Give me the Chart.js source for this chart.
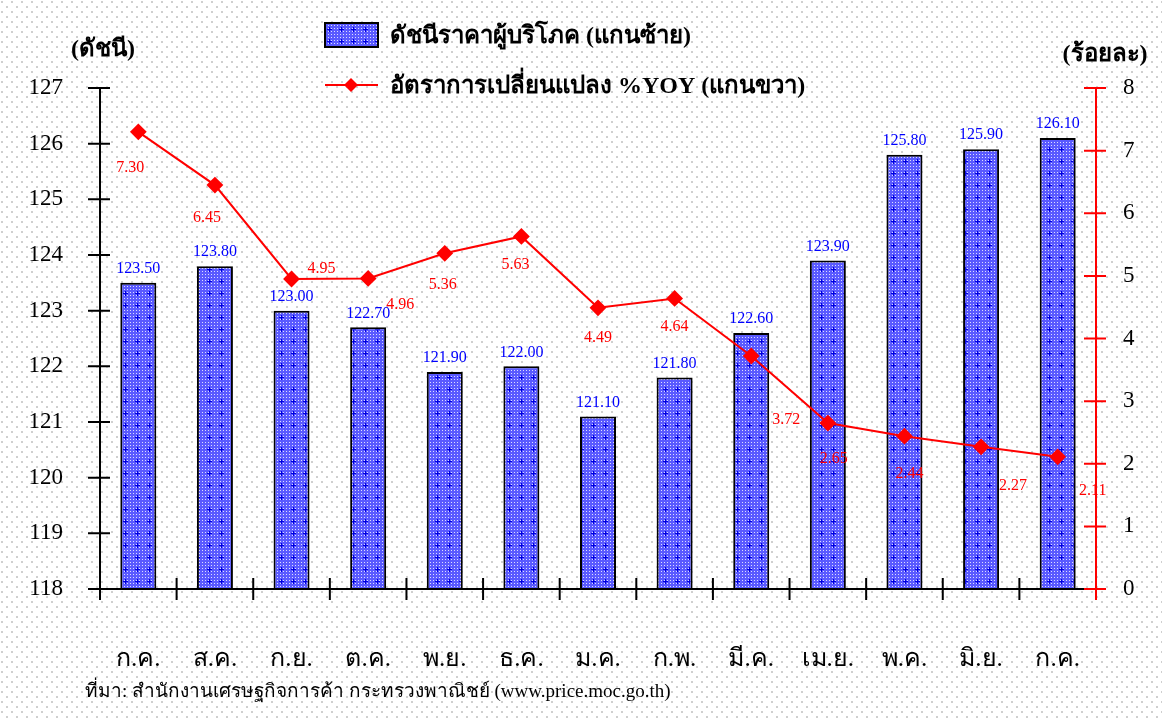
<!DOCTYPE html>
<html>
<head>
<meta charset="utf-8">
<script src="https://cdn.jsdelivr.net/npm/chart.js@4"></script>
<style>
  html, body { margin: 0; padding: 0; background: #fff; }
  #wrap { width: 1162px; height: 720px; }
</style>
</head>
<body>
<div id="wrap"><canvas id="cpi" width="1162" height="720"></canvas></div>
<script>
// data
const months = ["ก.ค.", "ส.ค.", "ก.ย.", "ต.ค.", "พ.ย.", "ธ.ค.", "ม.ค.", "ก.พ.", "มี.ค.", "เม.ย.", "พ.ค.", "มิ.ย.", "ก.ค."];
const cpiIndex = [123.5, 123.8, 123.0, 122.7, 121.9, 122.0, 121.1, 121.8, 122.6, 123.9, 125.8, 125.9, 126.1];
const yoyChange = [7.30, 6.45, 4.95, 4.96, 5.36, 5.63, 4.49, 4.64, 3.72, 2.65, 2.44, 2.27, 2.11];
const leftTicks = [118, 119, 120, 121, 122, 123, 124, 125, 126, 127];
const rightTicks = [0, 1, 2, 3, 4, 5, 6, 7, 8];

const barLegend = "ดัชนีราคาผู้บริโภค (แกนซ้าย)";
const lineLegend = "อัตราการเปลี่ยนแปลง %YOY (แกนขวา)";
const leftTitle = "(ดัชนี)";
const rightTitle = "(ร้อยละ)";
const sourceNote = "ที่มา: สำนักงานเศรษฐกิจการค้า กระทรวงพาณิชย์ (www.price.moc.go.th)";

// where excel left the red labels, relative to each point
const yoyLabelShift = [[-8, 36], [-8, 33], [30, -10], [32, 26], [-2, 31], [-6, 28], [0, 30],
  [0, 28], [35, 64], [6, 36], [5, 38], [32, 39], [35, 34]];

const FONT = "'Liberation Serif', 'Times New Roman', serif";

function dotBackground(ctx) {
  let c = document.createElement("canvas");
  c.width = 10; c.height = 10;
  let g = c.getContext("2d");
  g.fillStyle = "#ffffff";
  g.fillRect(0, 0, 10, 10);
  g.fillStyle = "#cfcfcf";
  g.fillRect(1, 1, 2, 2);
  g.fillRect(6, 6, 2, 2);
  return ctx.createPattern(c, "repeat");
}

function barFill(ctx) {
  let c = document.createElement("canvas");
  c.width = 12; c.height = 12;
  let g = c.getContext("2d");
  g.fillStyle = "#5a5aff";
  g.fillRect(0, 0, 12, 12);
  g.fillStyle = "#dcdcff";
  for (let x = 0; x < 12; x += 3) {
    for (let y = 0; y < 12; y += 3) g.fillRect(x + 1, y + 1, 1, 1);
  }
  g.fillStyle = "#0000e0";
  g.fillRect(5, 3, 1, 5);
  g.fillRect(3, 5, 5, 1);
  return ctx.createPattern(c, "repeat");
}

let canvas = document.getElementById("cpi");
let ctx = canvas.getContext("2d");
const bgPattern = dotBackground(ctx);
const barPattern = barFill(ctx);

const decor = {
  id: "decor",
  beforeDraw(chart) {
    let c = chart.ctx;
    c.save();
    c.fillStyle = bgPattern;
    c.fillRect(0, 0, chart.width, chart.height);
    c.restore();
  },
  afterDatasetsDraw(chart) {
    let c = chart.ctx;
    let x = chart.scales.x, yl = chart.scales.y, yr = chart.scales.y2;
    let area = chart.chartArea;
    c.save();

    // left axis, ticks crossing the line
    c.strokeStyle = "#000";
    c.lineWidth = 2;
    c.beginPath();
    c.moveTo(area.left, yl.getPixelForValue(127));
    c.lineTo(area.left, yl.getPixelForValue(118));
    leftTicks.forEach(v => {
      let py = yl.getPixelForValue(v);
      c.moveTo(area.left - 12, py);
      c.lineTo(area.left + 10, py);
    });
    // bottom axis with ticks between months
    c.moveTo(area.left, area.bottom);
    c.lineTo(area.right, area.bottom);
    for (let i = 1; i < months.length; i++) {
      let px = (x.getPixelForValue(i - 1) + x.getPixelForValue(i)) / 2;
      c.moveTo(px, area.bottom - 11);
      c.lineTo(px, area.bottom + 11);
    }
    c.moveTo(area.left, area.bottom);
    c.lineTo(area.left, area.bottom + 11);
    c.stroke();

    // right axis in red
    c.strokeStyle = "#ff0000";
    c.beginPath();
    c.moveTo(area.right, yr.getPixelForValue(8));
    c.lineTo(area.right, yr.getPixelForValue(0) + 11);
    rightTicks.forEach(v => {
      let py = yr.getPixelForValue(v);
      c.moveTo(area.right - 12, py);
      c.lineTo(area.right + 10, py);
    });
    c.stroke();

    // value labels
    c.font = "16px " + FONT;
    c.textAlign = "center";
    c.textBaseline = "middle";
    c.fillStyle = "#0000ff";
    chart.getDatasetMeta(1).data.forEach((bar, i) => {
      c.fillText(cpiIndex[i].toFixed(2), bar.x, bar.y - 14);
    });
    c.fillStyle = "#ff0000";
    chart.getDatasetMeta(0).data.forEach((pt, i) => {
      let s = yoyLabelShift[i];
      c.fillText(yoyChange[i].toFixed(2), pt.x + s[0], pt.y + s[1]);
    });
    c.restore();
  },
  afterDraw(chart) {
    let c = chart.ctx;
    c.save();
    // legend
    c.fillStyle = barPattern;
    c.fillRect(325, 23, 53, 24);
    c.strokeStyle = "#000";
    c.lineWidth = 2;
    c.strokeRect(325, 23, 53, 24);
    c.strokeStyle = "#ff0000";
    c.beginPath();
    c.moveTo(325, 85);
    c.lineTo(378, 85);
    c.stroke();
    c.fillStyle = "#ff0000";
    c.beginPath();
    c.moveTo(351, 78); c.lineTo(358, 85); c.lineTo(351, 92); c.lineTo(344, 85);
    c.closePath();
    c.fill();

    c.fillStyle = "#000";
    c.font = "bold 24px " + FONT;
    c.textAlign = "left";
    c.textBaseline = "middle";
    c.fillText(barLegend, 390, 37);
    c.fillText(lineLegend, 390, 87);

    // axis titles
    c.font = "bold 24px " + FONT;
    c.textAlign = "center";
    c.fillText(leftTitle, 103, 50);
    c.fillText(rightTitle, 1105, 55);

    // source
    c.font = "19px " + FONT;
    c.textAlign = "left";
    c.fillText(sourceNote, 85, 692);
    c.restore();
  }
};

new Chart(ctx, {
  data: {
    labels: months,
    datasets: [
      {
        type: "line",
        label: lineLegend,
        data: yoyChange,
        yAxisID: "y2",
        borderColor: "#ff0000",
        backgroundColor: "#ff0000",
        borderWidth: 2,
        pointStyle: "rectRot",
        pointRadius: 7,
        pointHoverRadius: 7,
        tension: 0,
        order: 0,
      },
      {
        type: "bar",
        label: barLegend,
        data: cpiIndex,
        yAxisID: "y",
        backgroundColor: barPattern,
        borderColor: "#000",
        borderWidth: 2,
        borderSkipped: false,
        barPercentage: 0.47,
        categoryPercentage: 1,
        order: 1,
      },
    ],
  },
  options: {
    responsive: false,
    animation: false,
    layout: { padding: { top: 88, left: 0, right: 0, bottom: 0 } },
    plugins: {
      legend: { display: false },
      tooltip: { enabled: false },
    },
    scales: {
      x: {
        grid: { display: false, drawTicks: false },
        border: { display: false },
        ticks: { font: { family: FONT, size: 25 }, color: "#000", padding: 55 },
        afterFit(s) { s.height = 131; },
      },
      y: {
        position: "left",
        min: 118,
        max: 127,
        grid: { display: false, drawTicks: false },
        border: { display: false },
        ticks: { stepSize: 1, font: { family: FONT, size: 23 }, color: "#000", padding: 37 },
        afterFit(s) { s.width = 100; },
      },
      y2: {
        position: "right",
        min: 0,
        max: 8,
        grid: { display: false, drawTicks: false },
        border: { display: false },
        ticks: { stepSize: 1, font: { family: FONT, size: 23 }, color: "#000", padding: 27 },
        afterFit(s) { s.width = 66; },
      },
    },
  },
  plugins: [decor],
});
</script>
</body>
</html>
